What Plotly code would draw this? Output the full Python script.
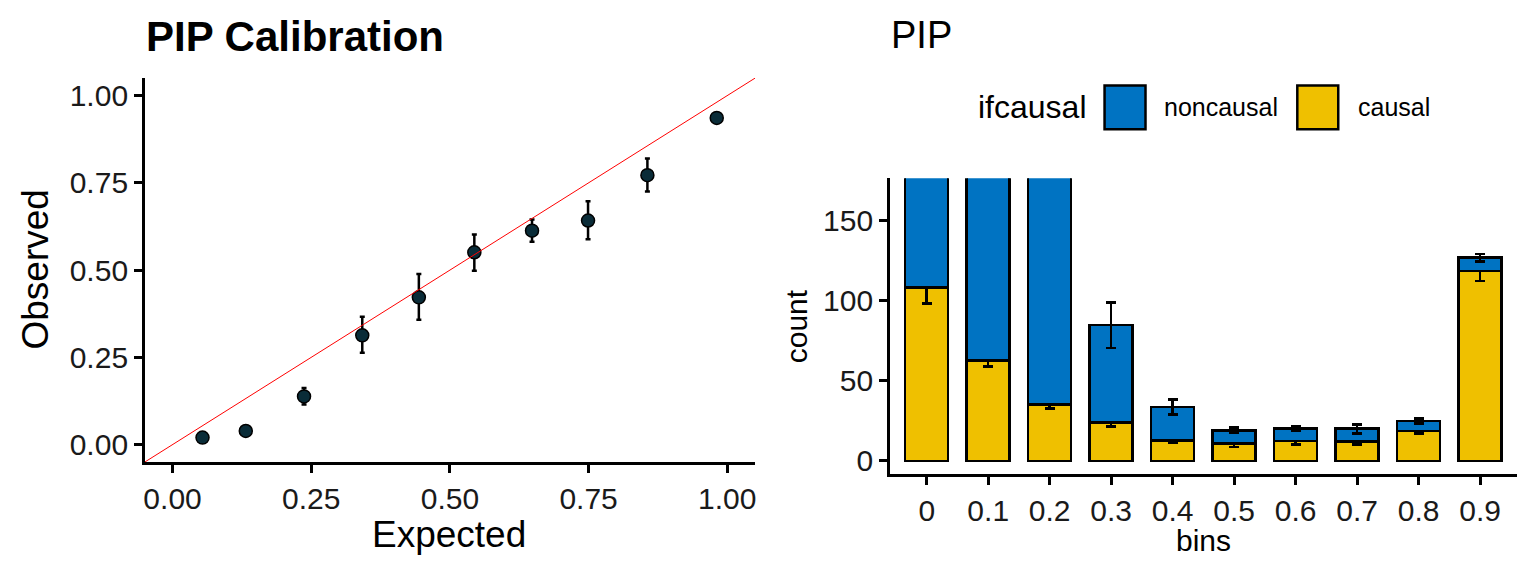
import plotly.graph_objects as go

# --- left panel: PIP calibration ---
expected = [0.054, 0.132, 0.237, 0.342, 0.444, 0.544, 0.648, 0.749, 0.856, 0.981]
observed = [0.020, 0.039, 0.138, 0.313, 0.422, 0.551, 0.613, 0.642, 0.772, 0.936]
obs_hi = [0.022, 0.041, 0.162, 0.366, 0.489, 0.602, 0.645, 0.697, 0.820, 0.942]
obs_lo = [0.018, 0.037, 0.115, 0.263, 0.358, 0.498, 0.581, 0.588, 0.725, 0.930]

# --- right panel: counts per PIP bin ---
bins = ["0", "0.1", "0.2", "0.3", "0.4", "0.5", "0.6", "0.7", "0.8", "0.9"]
causal = [108.2, 62.5, 35.2, 23.8, 12.8, 10.8, 12.4, 12.0, 18.6, 118.4]
causal_hi = [117.9, 65.2, 37.7, 26.3, 15.1, 12.4, 14.1, 13.4, 19.9, 125.2]
causal_lo = [98.3, 59.0, 32.7, 21.5, 11.2, 8.7, 10.3, 10.3, 17.2, 112.4]
total = [650, 520, 400, 84.8, 33.5, 19.0, 20.3, 20.3, 24.8, 127.0]
total_hi = [670, 540, 420, 98.9, 38.3, 20.7, 21.5, 22.8, 26.5, 129.1]
total_lo = [630, 500, 380, 70.3, 29.0, 17.6, 18.6, 17.2, 23.2, 124.6]

noncausal = [t - c for t, c in zip(total, causal)]

BLUE = "#0073C2"
YELLOW = "#EFC000"
FONT = "Liberation Sans"

# the page puts the plot 8px in from the top-left corner, so work in screen pixels
W, H, OFF = 1520, 560, 8


def px(x):
    return (x - OFF) / W


def py(y):
    return 1 - (y - OFF) / H


fig = go.Figure()

# calibration points
fig.add_trace(go.Scatter(
    x=expected, y=observed, mode="markers",
    marker=dict(color="#0a2c38", size=13, line=dict(color="black", width=1.5)),
    error_y=dict(type="data", symmetric=False,
                 array=[h - o for h, o in zip(obs_hi, observed)],
                 arrayminus=[o - l for o, l in zip(observed, obs_lo)],
                 color="black", thickness=2.5, width=2.5),
    xaxis="x", yaxis="y", showlegend=False))
# y = x reference line
fig.add_trace(go.Scatter(
    x=[-0.1, 1.1], y=[-0.1, 1.1], mode="lines",
    line=dict(color="red", width=1), xaxis="x", yaxis="y",
    showlegend=False, cliponaxis=True))

# stacked bars
fig.add_trace(go.Bar(
    x=bins, y=causal, name="causal", width=0.7,
    marker=dict(color=YELLOW, line=dict(color="black", width=2.5)),
    error_y=dict(type="data", symmetric=False,
                 array=[h - c for h, c in zip(causal_hi, causal)],
                 arrayminus=[c - l for c, l in zip(causal, causal_lo)],
                 color="black", thickness=2.5, width=5),
    xaxis="x2", yaxis="y2", showlegend=False))
fig.add_trace(go.Bar(
    x=bins, y=noncausal, name="noncausal", width=0.7,
    marker=dict(color=BLUE, line=dict(color="black", width=2.5)),
    error_y=dict(type="data", symmetric=False,
                 array=[h - t for h, t in zip(total_hi, total)],
                 arrayminus=[t - l for t, l in zip(total, total_lo)],
                 color="black", thickness=2.5, width=5),
    xaxis="x2", yaxis="y2", showlegend=False))

axis_common = dict(showline=True, linecolor="black", linewidth=2.5,
                   ticks="outside", ticklen=8, tickwidth=2.5, tickcolor="black",
                   showgrid=False, zeroline=False,
                   tickfont=dict(family=FONT, size=30, color="#1a1a1a"))

fig.update_layout(
    width=W, height=H,
    margin=dict(l=0, r=0, t=0, b=0),
    paper_bgcolor="white", plot_bgcolor="white",
    barmode="stack",
    font=dict(family=FONT, color="black"),
    xaxis=dict(domain=[px(144), px(755)], range=[-0.05, 1.05],
               tickvals=[0, 0.25, 0.5, 0.75, 1.0],
               ticktext=["0.00", "0.25", "0.50", "0.75", "1.00"],
               anchor="y", **axis_common),
    yaxis=dict(domain=[py(464.5), py(78.5)], range=[-0.05, 1.05],
               tickvals=[0, 0.25, 0.5, 0.75, 1.0],
               ticktext=["0.00", "0.25", "0.50", "0.75", "1.00"],
               anchor="x", **axis_common),
    xaxis2=dict(domain=[px(890), px(1518)], range=[-0.6, 9.6],
                type="category", anchor="y2", **axis_common),
    yaxis2=dict(domain=[py(476.8), py(179.2)], range=[-8.4, 176.4],
                tickvals=[0, 50, 100, 150], anchor="x2", **axis_common),
)


def label(text, x, y, size, anchor="center", angle=0):
    fig.add_annotation(text=text, x=px(x), y=py(y), xref="paper", yref="paper",
                       xanchor=anchor, yanchor="middle", textangle=angle,
                       showarrow=False, font=dict(family=FONT, size=size, color="black"))


# panel titles
label("<b>PIP Calibration</b>", 143, 37, 42, anchor="left")
label("PIP", 889, 35, 38, anchor="left")

# axis titles
label("Expected", 449, 537, 37)
label("Observed", 35, 271, 37, angle=-90)
label("bins", 1204, 543, 30)
label("count", 796, 328, 30, angle=-90)

# legend (drawn by hand so the keys are as big as in the ggplot legend)
label("ifcausal", 976, 108, 32, anchor="left")
legend_keys = [("noncausal", BLUE, 1105, 1163), ("causal", YELLOW, 1298, 1357)]
for name, col, kx, tx in legend_keys:
    fig.add_shape(type="rect", xref="paper", yref="paper",
                  x0=px(kx), x1=px(kx + 41), y0=py(130), y1=py(86),
                  fillcolor=col, line=dict(color="black", width=2.5))
    label(name, tx, 108, 25, anchor="left")

fig.write_html("out.html")
